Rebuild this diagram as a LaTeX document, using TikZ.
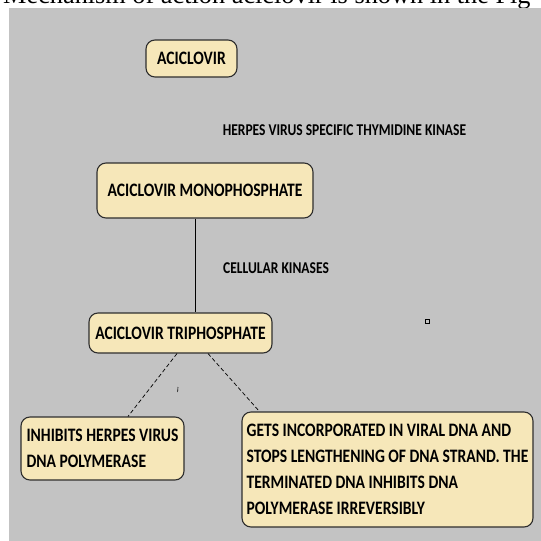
\documentclass[tikz,border=0pt]{standalone}
\usepackage{fontspec}
\newfontfamily\boxfont{Carlito}[FakeStretch=0.82]
\newfontfamily\headfont{Liberation Serif}
\definecolor{bggray}{HTML}{C3C3C3}
\definecolor{boxfill}{HTML}{F6E7B9}
\definecolor{boxline}{HTML}{2E2E2E}
\tikzset{
    bx/.style={draw=boxline, fill=boxfill, line width=1.1pt, rounded corners=9pt,
        inner xsep=3pt, inner ysep=0pt, font=\boxfont\bfseries\fontsize{19}{26}\selectfont},
    lbl/.style={inner sep=0pt, font=\boxfont\bfseries\fontsize{16.5}{20}\selectfont},
    solidline/.style={draw=black, line width=1pt},
    dashline/.style={draw=black, line width=0.7pt, dash pattern=on 4pt off 2.5pt}
}
\begin{document}
\begin{tikzpicture}[grow=down, edge from parent/.style={draw=none},
level 1/.style={level distance=132pt},
level 2/.style={level distance=142.5pt},
level 3/.style={level distance=115.5pt, sibling distance=285pt}]
\useasboundingbox (0,0) rectangle (541pt,-541pt);
\node[anchor=base west, inner sep=0pt, font=\headfont\fontsize{26.3}{30}\selectfont] (head) at (3pt,-3.5pt)
    {Mechanism of action aciclovir is shown in the Fig};
\fill[bggray] (9pt,-8pt) rectangle (541pt,-541pt);
\node[bx, minimum width=91pt, minimum height=37pt] (acv) at (191.5pt,-58.5pt) {ACICLOVIR}
    child[xshift=13.5pt] { node[bx, minimum width=216pt, minimum height=55pt] (mono) {ACICLOVIR MONOPHOSPHATE}
        child[xshift=-24.5pt] { node[bx, minimum width=183pt, minimum height=40pt] (tri) {ACICLOVIR TRIPHOSPHATE}
            child[xshift=64.5pt] { node[bx, align=left, minimum width=163pt, minimum height=63pt] (inh)
                {INHIBITS HERPES VIRUS\\DNA POLYMERASE} }
            child[xshift=64.5pt, yshift=-21pt] { node[bx, inner xsep=2pt, align=left, minimum width=291pt, minimum height=115pt] (inc)
                {GETS INCORPORATED IN VIRAL DNA AND\\STOPS LENGTHENING OF DNA STRAND. THE\\TERMINATED DNA INHIBITS DNA\\POLYMERASE IRREVERSIBLY} }
        }
    };
\node[lbl, anchor=west] (tk) at ([xshift=-15pt, yshift=-53pt]acv.south east) {HERPES VIRUS SPECIFIC THYMIDINE KINASE};
\node[lbl, anchor=west] (ck) at ([xshift=18pt, yshift=-50pt]mono.south) {CELLULAR KINASES};
\draw[solidline] ([xshift=-10pt]mono.south) -- ([xshift=-10pt]mono.south |- tri.north);
\draw[dashline] ([xshift=-3.5pt]tri.south) -- ([xshift=25.5pt]inh.north);
\draw[dashline] ([xshift=27.5pt]tri.south) -- ([xshift=18pt]inc.north west);
\draw[line width=1pt] (425pt,-319.5pt) rectangle (429pt,-323.5pt);
\draw[line width=0.6pt] (178pt,-387pt) -- (177.6pt,-392pt);
\end{tikzpicture}
\end{document}
